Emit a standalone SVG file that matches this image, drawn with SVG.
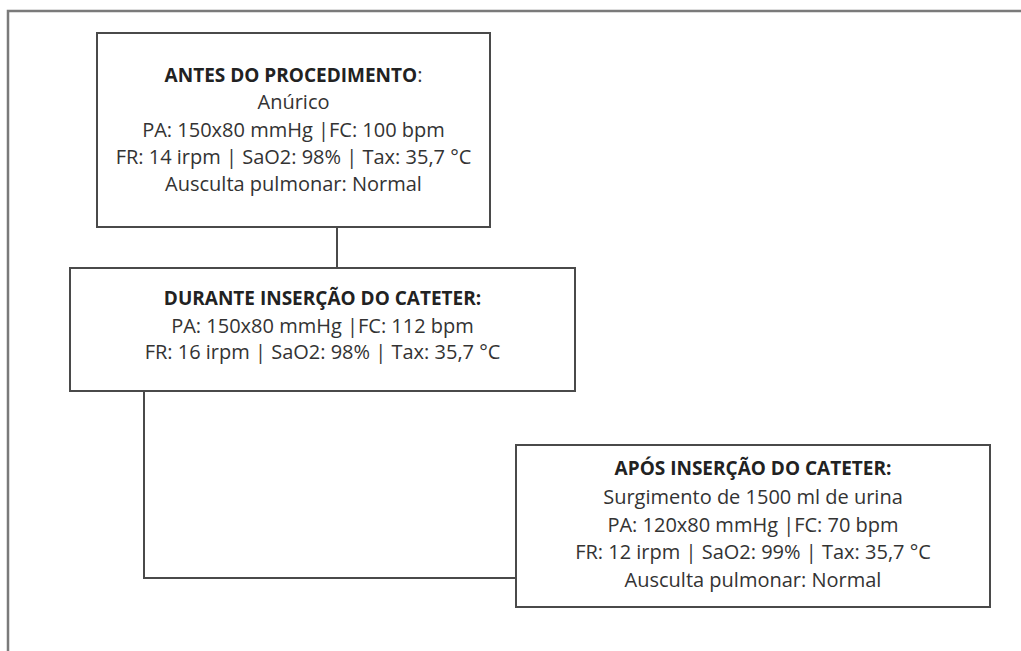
<svg xmlns="http://www.w3.org/2000/svg" width="1021" height="651" viewBox="0 0 1021 651">
<style>
.frame{fill:none;stroke:#7a7a7a;stroke-width:2.5}
.box{fill:#fff;stroke:#4a4a4a;stroke-width:2}
.conn{fill:none;stroke:#4a4a4a;stroke-width:2}
text{font-family:"Open Sans","Liberation Sans",sans-serif;font-size:20px;fill:#333;text-anchor:middle}
.t{font-weight:bold;fill:#222;font-size:19px}
</style>
<rect width="1021" height="651" fill="#fff"/>
<path class="frame" d="M8,651 V11 H1021"/>
<g id="connectors">
<path class="conn" d="M337,227 V268"/>
<path class="conn" d="M144,391 V578 H516"/>
</g>
<g id="node-antes">
<rect class="box" x="97" y="33" width="393" height="194"/>
<text x="293.5" y="82"><tspan class="t">ANTES DO PROCEDIMENTO</tspan>:</text>
<text x="293.5" y="109">Anúrico</text>
<text x="293.5" y="137">PA: 150x80 mmHg |FC: 100 bpm</text>
<text x="293.5" y="164">FR: 14 irpm | SaO2: 98% | Tax: 35,7 °C</text>
<text x="293.5" y="191">Ausculta pulmonar: Normal</text>
</g>
<g id="node-durante">
<rect class="box" x="70" y="268" width="505" height="123"/>
<text class="t" x="322.5" y="305">DURANTE INSERÇÃO DO CATETER:</text>
<text x="322.5" y="333">PA: 150x80 mmHg |FC: 112 bpm</text>
<text x="322.5" y="359">FR: 16 irpm | SaO2: 98% | Tax: 35,7 °C</text>
</g>
<g id="node-apos">
<rect class="box" x="516" y="445" width="474" height="162"/>
<text class="t" x="753" y="475">APÓS INSERÇÃO DO CATETER:</text>
<text x="753" y="504">Surgimento de 1500 ml de urina</text>
<text x="753" y="532">PA: 120x80 mmHg |FC: 70 bpm</text>
<text x="753" y="559">FR: 12 irpm | SaO2: 99% | Tax: 35,7 °C</text>
<text x="753" y="587">Ausculta pulmonar: Normal</text>
</g>
</svg>
